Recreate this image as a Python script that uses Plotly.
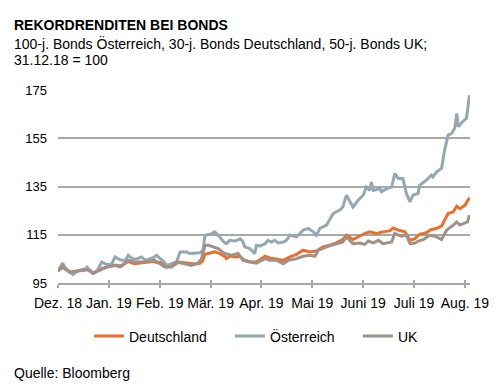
import plotly.graph_objects as go

# x positions in months since 31.12.2018 (0 = Dez. 18, 1 = Jan. 19, ...)
tick_vals = [0, 1, 2, 3, 4, 5, 6, 7, 8]
tick_labels = ["Dez. 18", "Jan. 19", "Feb. 19", "Mär. 19", "Apr. 19",
               "Mai 19", "Juni 19", "Juli 19", "Aug. 19"]

de_x = [0, 0.09, 0.24, 0.39, 0.53, 0.57, 0.69, 0.86, 0.96, 1.12, 1.22, 1.38, 1.5, 1.64,
        1.75, 1.87, 1.96, 2.06, 2.14, 2.25, 2.38, 2.53, 2.69, 2.79, 2.84, 2.89, 3.08,
        3.18, 3.29, 3.31, 3.38, 3.48, 3.58, 3.67, 3.77, 3.90, 4.07, 4.16, 4.33, 4.43,
        4.56, 4.69, 4.82, 4.95, 5.08, 5.21, 5.34, 5.47, 5.60, 5.67, 5.80, 5.93, 6.03,
        6.13, 6.26, 6.39, 6.52, 6.59, 6.69, 6.82, 6.92, 7.02, 7.11, 7.24, 7.34, 7.44,
        7.54, 7.67, 7.77, 7.84, 7.90, 8.0, 8.09]
de_y = [100, 101.5, 99.3, 100, 100.5, 101, 98.9, 101, 101.6, 102.3, 101.8, 103.9, 103,
        103.4, 103.5, 103.9, 103.4, 103.6, 101.6, 102, 103.7, 103.4, 102.9, 103.2, 104,
        106.9, 107.9, 107.2, 105.8, 105.1, 106.2, 105.8, 106, 104.4, 103.7, 103.7, 106.1,
        105.4, 104.8, 104.4, 105.8, 106.9, 108.6, 107.9, 108.3, 110, 110.7, 111.6, 113,
        114.8, 113, 114.4, 115.5, 116.2, 115.5, 116.2, 116.6, 117.8, 116.9, 116.2, 112.7,
        113.4, 115.2, 115.8, 117.2, 117.6, 118.6, 123.8, 124.5, 126.8, 125.8, 127.2, 130.4]

at_x = [0, 0.09, 0.16, 0.24, 0.29, 0.39, 0.53, 0.57, 0.69, 0.77, 0.86, 0.96, 1.06, 1.12,
        1.22, 1.32, 1.38, 1.47, 1.55, 1.64, 1.71, 1.77, 1.87, 1.94, 2.0, 2.06, 2.14, 2.23,
        2.33, 2.40, 2.53, 2.59, 2.69, 2.79, 2.85, 2.89, 2.99, 3.08, 3.14, 3.18, 3.26,
        3.31, 3.38, 3.48, 3.58, 3.63, 3.67, 3.77, 3.87, 3.90, 3.97, 4.07, 4.13, 4.20,
        4.26, 4.33, 4.43, 4.49, 4.56, 4.69, 4.82, 4.92, 5.02, 5.08, 5.15, 5.28, 5.34,
        5.41, 5.54, 5.60, 5.67, 5.73, 5.80, 5.90, 6.0, 6.06, 6.13, 6.16, 6.20, 6.33,
        6.36, 6.46, 6.56, 6.62, 6.69, 6.78, 6.85, 6.92, 6.98, 7.08, 7.11, 7.24, 7.34,
        7.37, 7.44, 7.54, 7.60, 7.67, 7.74, 7.80, 7.84, 7.87, 7.96, 8.03, 8.09]
at_y = [100, 103.3, 100.5, 99.6, 98.5, 100, 100.3, 101.6, 99.1, 100, 103.7, 102.6, 103,
        105.8, 104.6, 104.2, 106.5, 105, 105, 105.8, 104.6, 104.8, 105.5, 106.5, 105.2,
        104.4, 102.3, 103, 103.7, 107.9, 107.9, 107.2, 107.5, 107.5, 108.5, 114.8, 115.2,
        116.2, 115, 114, 112, 111.3, 112.7, 112.4, 113.3, 112.4, 110, 109.3, 107.2, 110.6,
        110.3, 111.3, 112.7, 112, 112.7, 111.6, 112, 112.7, 114.8, 114.1, 116.9, 117.6,
        116.2, 114.8, 117.6, 119, 121, 123.8, 125.2, 126.5, 131.4, 129.3, 126.5, 129.3,
        131.4, 134.8, 133.4, 136.9, 133.4, 134.1, 132.8, 134.1, 134.8, 140.4, 138.3,
        138.3, 132.1, 128.6, 131.4, 132.1, 135.5, 137.6, 139.7, 138.9, 141, 142.5, 150,
        156.3, 157, 159.1, 165.3, 159.7, 162, 163.2, 172.9]

uk_x = [0, 0.09, 0.24, 0.43, 0.57, 0.69, 0.82, 0.96, 1.12, 1.25, 1.38, 1.51, 1.70, 1.90,
        1.96, 2.10, 2.23, 2.33, 2.49, 2.62, 2.75, 2.82, 2.89, 2.96, 3.15, 3.28, 3.41,
        3.54, 3.64, 3.77, 3.90, 4.07, 4.16, 4.30, 4.43, 4.53, 4.69, 4.82, 4.95, 5.05,
        5.12, 5.28, 5.41, 5.51, 5.60, 5.67, 5.80, 5.93, 6.03, 6.10, 6.20, 6.30, 6.39,
        6.56, 6.62, 6.75, 6.85, 6.92, 7.02, 7.08, 7.18, 7.31, 7.41, 7.54, 7.64, 7.77,
        7.84, 7.90, 8.0, 8.05, 8.09]
uk_y = [100, 102, 99.6, 100.3, 100.6, 99.1, 100.3, 101.6, 102.3, 102, 104.4, 103.7,
        103.7, 104.4, 103.7, 101.6, 101.6, 103.7, 103, 102.3, 103.2, 105, 110.6, 110.6,
        109.3, 107.2, 106.5, 107.2, 104.4, 103.7, 103.2, 105.1, 104.4, 104.4, 103, 104.4,
        105.1, 106.1, 106.5, 106.1, 108.6, 110, 110.7, 111.3, 112, 114.1, 111.3, 111.6,
        111, 112.4, 111.6, 112.7, 111.3, 112, 115.5, 114.4, 114.8, 111.3, 111.6, 112.4,
        113, 114.8, 114.4, 113, 116.9, 119, 120.3, 119, 119.7, 120.3, 123.1]

y_ticks = [95, 115, 135, 155, 175]

FONT = "Liberation Sans, Arial, Helvetica, sans-serif"
C_DE = "#E8702E"
C_AT = "#95A8B1"
C_UK = "#9E918A"
GRID = "#A8A8A8"

L, R, T, B = 58, 30, 90, 103
H = 386 - T - B
W = 500 - L - R

def py(p):
    return (386 - B - p) / H

def px(p):
    return (p - L) / W

fig = go.Figure()
fig.add_trace(go.Scatter(x=de_x, y=de_y, mode="lines", name="Deutschland",
                         line=dict(color=C_DE, width=3), legend="legend"))
fig.add_trace(go.Scatter(x=at_x, y=at_y, mode="lines", name="Österreich",
                         line=dict(color=C_AT, width=3), legend="legend2"))
fig.add_trace(go.Scatter(x=uk_x, y=uk_y, mode="lines", name="UK",
                         line=dict(color=C_UK, width=3), legend="legend3"))
# invisible trace so the overlay axis (crossing ticks) renders
fig.add_trace(go.Scatter(x=[0], y=[95], xaxis="x2", mode="markers", showlegend=False,
                         marker=dict(opacity=0), hoverinfo="skip"))

def leg(xpix):
    return dict(orientation="h", x=px(xpix), xanchor="left", y=py(336.5), yanchor="middle",
                font=dict(size=14, color="black"), bgcolor="rgba(0,0,0,0)",
                borderwidth=0)

fig.update_layout(
    width=500, height=386,
    margin=dict(l=L, r=R, t=T, b=B, autoexpand=False),
    paper_bgcolor="white", plot_bgcolor="white",
    font=dict(family=FONT, size=14, color="black"),
    showlegend=True,
    legend=leg(89), legend2=leg(230), legend3=leg(358),
    xaxis=dict(range=[0, 8.1], tickmode="array", tickvals=tick_vals, ticktext=tick_labels,
               showgrid=False, zeroline=False, showline=True, linecolor=GRID, linewidth=1.5,
               ticks="outside", ticklen=3, tickwidth=1.5, tickcolor=GRID,
               tickfont=dict(size=14), ticklabelstandoff=3, fixedrange=True,
               automargin=False),
    xaxis2=dict(range=[0, 8.1], overlaying="x", matches="x", tickmode="array",
                tickvals=tick_vals, showticklabels=False, showgrid=False, zeroline=False,
                showline=False, ticks="inside", ticklen=3, tickwidth=1.5, tickcolor=GRID,
                side="bottom"),
    yaxis=dict(range=[95, 175], tickmode="array", tickvals=y_ticks,
               showgrid=True, gridcolor=GRID, gridwidth=1.5, zeroline=False,
               showline=False, ticks="", tickfont=dict(size=13), ticklabelstandoff=10,
               fixedrange=True, automargin=False),
    annotations=[
        dict(text="<b>REKORDRENDITEN BEI BONDS</b>", x=px(12), y=py(25.5),
             xref="paper", yref="paper", showarrow=False, xanchor="left", yanchor="middle",
             font=dict(size=14)),
        dict(text="100-j. Bonds Österreich, 30-j. Bonds Deutschland, 50-j. Bonds UK;",
             x=px(12), y=py(43.5), xref="paper", yref="paper", showarrow=False,
             xanchor="left", yanchor="middle", font=dict(size=14)),
        dict(text="31.12.18 = 100", x=px(12), y=py(60), xref="paper", yref="paper",
             showarrow=False, xanchor="left", yanchor="middle", font=dict(size=14)),
        dict(text="Quelle: Bloomberg", x=px(12), y=py(373), xref="paper", yref="paper",
             showarrow=False, xanchor="left", yanchor="middle", font=dict(size=14)),
    ],
)

fig.write_html("out.html", config={"displayModeBar": False},
               post_script="document.body.style.margin='0';document.body.style.overflow='hidden';")
